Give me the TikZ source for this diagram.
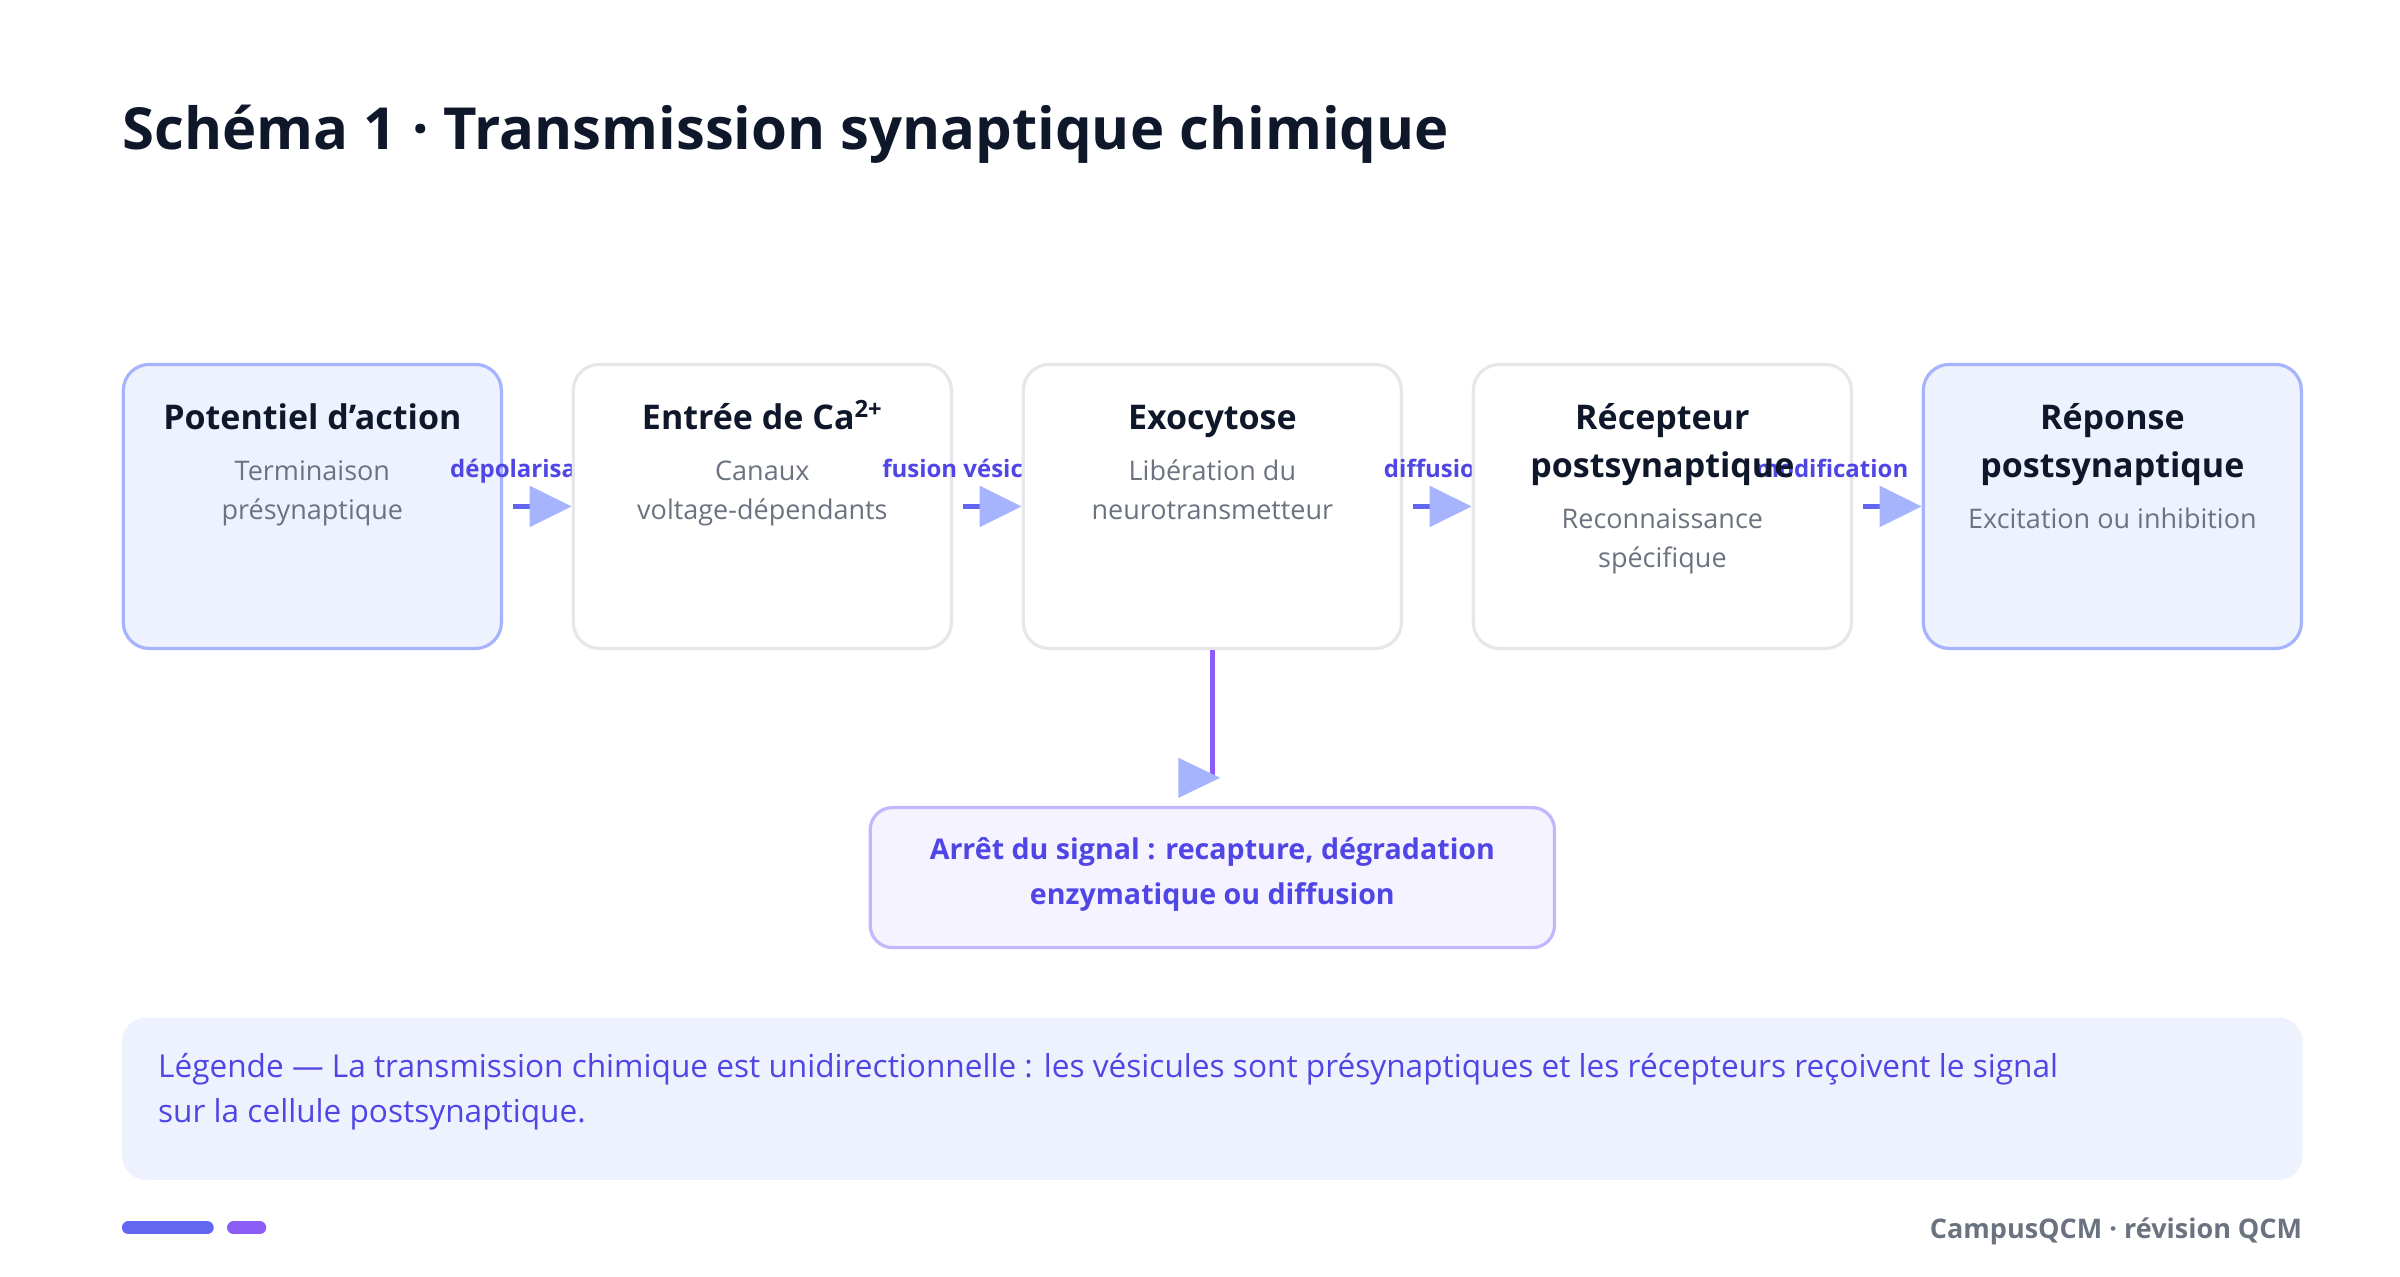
\documentclass[tikz,border=0pt]{standalone}
\usepackage{fontspec}
\setmainfont{Open Sans}
\usetikzlibrary{arrows.meta}
\definecolor{navy}{HTML}{0F172A}
\definecolor{grayt}{HTML}{6B7280}
\definecolor{indig}{HTML}{4F46E5}
\definecolor{indigl}{HTML}{A5B4FC}
\definecolor{indigm}{HTML}{6366F1}
\definecolor{viol}{HTML}{8B5CF6}
\definecolor{pale}{HTML}{EEF2FF}
\definecolor{edge}{HTML}{E5E7EB}
\definecolor{vpale}{HTML}{F5F3FF}
\definecolor{vedge}{HTML}{C4B5FD}
\begin{document}
\begin{tikzpicture}[x=0.773pt,y=-0.773pt,
  box/.style={rounded corners=13pt,minimum width=189pt,minimum height=142pt,line width=1.6pt,inner sep=0pt},
  hi/.style={box,fill=pale,draw=indigl},
  lo/.style={box,fill=white,draw=edge},
  ttl/.style={anchor=base,inner sep=0pt,font=\bfseries\fontsize{17}{24}\selectfont,text=navy},
  sub/.style={anchor=base,inner sep=0pt,font=\fontsize{13.5}{19.5}\selectfont,text=grayt},
  lab/.style={anchor=base,font=\bfseries\fontsize{12}{14}\selectfont,text=indig},
  arr/.style={draw=indigm,line width=2.6pt,shorten <=5pt,-{Triangle[length=21pt,width=20pt,fill=indigl,color=indigl]}}]
\useasboundingbox (0,0) rectangle (1552,825.2);
\node[anchor=base west,inner sep=0pt,font=\bfseries\fontsize{29}{34}\selectfont,text=navy] (title) at (79,97) {Schéma 1 · Transmission synaptique chimique};
% boxes with labels in between (labels clipped by next box)
\node[hi] (b1) at (202,327.5) {};
\node[lab] (l1) at (347.5,309) {dépolarisation};
\node[lo] (b2) at (493,327.5) {};
\node[lab] (l2) at (638.5,309) {fusion vésiculaire};
\node[lo] (b3) at (784,327.5) {};
\node[lab] (l3) at (929.5,309) {diffusion};
\node[lo] (b4) at (1075,327.5) {};
\node[lab,anchor=base west,inner sep=0pt] (l4) at (1135,309) {modification};
\node[hi] (b5) at (1366,327.5) {};
% texts
\node[ttl] (t1) at (202,278) {Potentiel d'action};
\node[sub] (s1a) at (202,311) {Terminaison};
\node[sub] (s1b) at (202,336) {présynaptique};
\node[ttl] (t2) at (493,278) {Entrée de Ca\textsuperscript{2+}};
\node[sub] (s2a) at (493,311) {Canaux};
\node[sub] (s2b) at (493,336) {voltage-dépendants};
\node[ttl] (t3) at (784,278) {Exocytose};
\node[sub] (s3a) at (784,311) {Libération du};
\node[sub] (s3b) at (784,336) {neurotransmetteur};
\node[ttl] (t4a) at (1075,278) {Récepteur};
\node[ttl] (t4b) at (1075,309) {postsynaptique};
\node[sub] (s4a) at (1075,342) {Reconnaissance};
\node[sub] (s4b) at (1075,367) {spécifique};
\node[ttl] (t5a) at (1366,278) {Réponse};
\node[ttl] (t5b) at (1366,309) {postsynaptique};
\node[sub] (s5) at (1366,342) {Excitation ou inhibition};
% arrows
\draw[arr] (b1.east) -- (b2.west);
\draw[arr] (b2.east) -- (b3.west);
\draw[arr] (b3.east) -- (b4.west);
\draw[arr] (b4.east) -- (b5.west);
% stop box
\node[rounded corners=11pt,minimum width=342pt,minimum height=70pt,fill=vpale,draw=vedge,line width=1.6pt] (stop) at (784,567.5) {};
\node[anchor=base,inner sep=0pt,font=\bfseries\fontsize{14.3}{22}\selectfont,text=indig] (st1) at (784,556) {Arrêt du signal : recapture, dégradation};
\node[anchor=base,inner sep=0pt,font=\bfseries\fontsize{14.3}{22}\selectfont,text=indig] (st2) at (784,585) {enzymatique ou diffusion};
\coordinate (tip) at (784,503);
\draw[viol,line width=2.4pt] (b3.south) -- (tip);
\fill[indigl] (762,490) -- (789,503) -- (762,516) -- cycle;
% legend
\fill[pale,rounded corners=12pt] (79,658) rectangle (1489,763);
\node[anchor=base west,inner sep=0pt,font=\fontsize{15.8}{22}\selectfont,text=indig] (leg1) at (102,697)
  {Légende — La transmission chimique est unidirectionnelle : les vésicules sont présynaptiques et les récepteurs reçoivent le signal};
\node[anchor=base west,inner sep=0pt,font=\fontsize{15.8}{22}\selectfont,text=indig] (leg2) at (102,726)
  {sur la cellule postsynaptique.};
% footer
\draw[indigm,line width=6.5pt,line cap=round] (83,794) -- (134,794);
\draw[viol,line width=6.5pt,line cap=round] (151,794) -- (168,794);
\node[anchor=base east,inner sep=0pt,font=\bfseries\fontsize{13.5}{16}\selectfont,text=grayt] (foot) at (1489,801) {CampusQCM · révision QCM};
\end{tikzpicture}
\end{document}
